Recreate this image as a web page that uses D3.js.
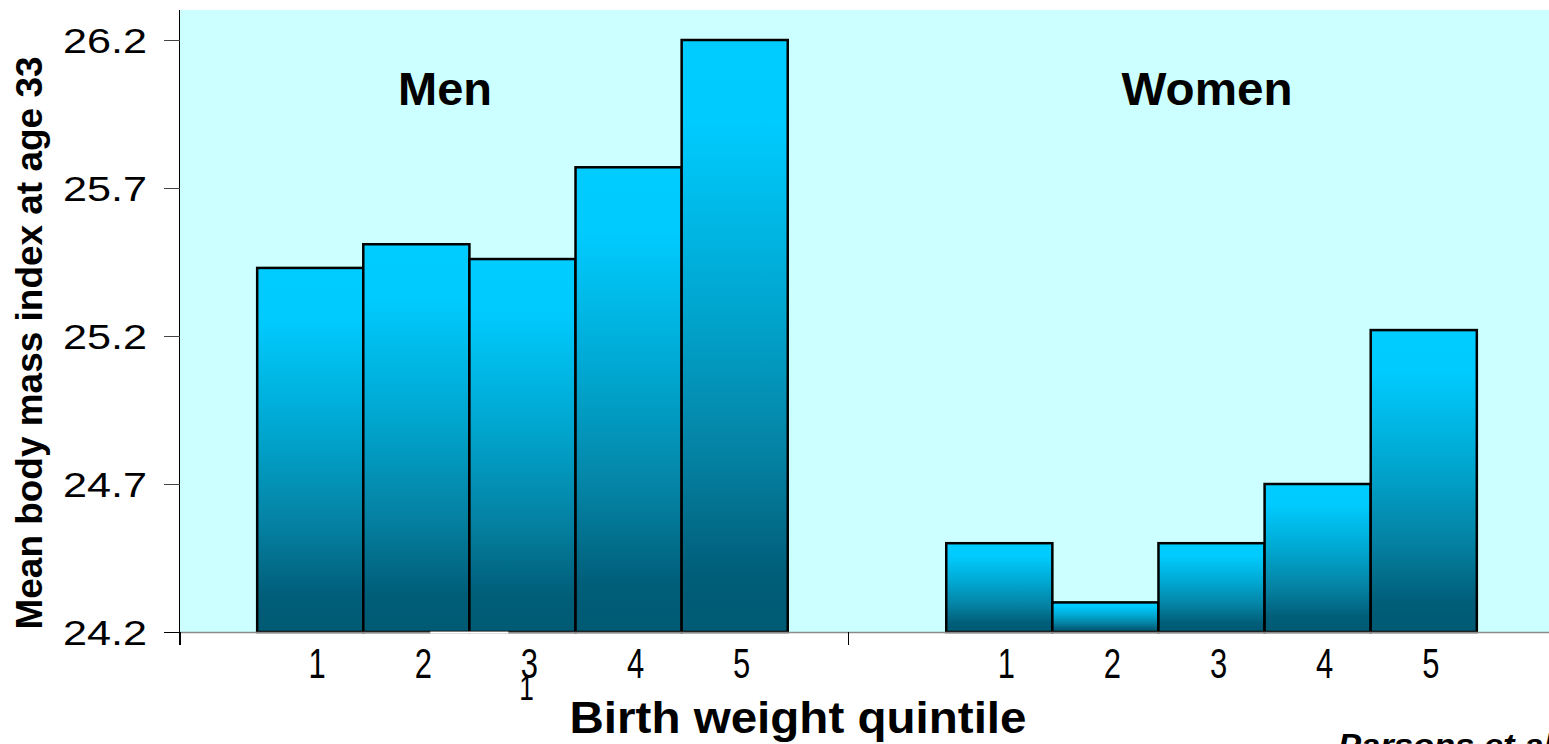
<!DOCTYPE html>
<html>
<head>
<meta charset="utf-8">
<script src="https://cdn.jsdelivr.net/npm/d3@7"></script>
<style>
  html, body { margin: 0; padding: 0; background: #ffffff; }
  svg { display: block; }
  text { font-family: "Liberation Sans", Arial, sans-serif; fill: #000; }
</style>
</head>
<body>
<svg id="chart" width="1549" height="744"></svg>
<script>
// Mean BMI at age 33 by birth weight quintile, men and women
const groups = ["Men", "Women"];
const quintiles = ["1", "2", "3", "4", "5"];
const menValues = [25.43, 25.51, 25.46, 25.77, 26.2];
const womenValues = [24.5, 24.3, 24.5, 24.7, 25.22];
const yTicks = [24.2, 24.7, 25.2, 25.7, 26.2];
const yTitle = "Mean body mass index at age 33";
const xTitle = "Birth weight quintile";
const sourceNote = "Parsons et al";

const seriesByGroup = { Men: menValues, Women: womenValues };

const svg = d3.select("#chart");
const plot = { left: 180, right: 1549, top: 10, bottom: 632 };

const y = d3.scaleLinear().domain([24.2, 26.2]).range([632, 40]);

const xGroup = d3.scaleBand()
  .domain(groups)
  .range([180, 1554])
  .paddingInner(0.23)
  .paddingOuter(0.112);

const xInner = d3.scaleBand()
  .domain(quintiles)
  .range([0, xGroup.bandwidth()])
  .padding(0);

// group separator ticks on the category axis
const xAxisScale = d3.scaleBand().domain(groups).range([180, 1516]);

// gradient used by every bar (relative to each bar's own box)
const defs = svg.append("defs");
const grad = defs.append("linearGradient")
  .attr("id", "barFill")
  .attr("x1", 0).attr("y1", 0).attr("x2", 0).attr("y2", 1);
[[0, "#00ccff"], [0.14, "#00cbfe"], [0.45, "#00a6cf"], [0.7, "#0582a3"], [0.9, "#005e79"], [1, "#005a73"]]
  .forEach(([o, c]) => grad.append("stop").attr("offset", o).attr("stop-color", c));

// plot background
svg.append("rect")
  .attr("x", plot.left).attr("y", plot.top)
  .attr("width", plot.right - plot.left).attr("height", plot.bottom - plot.top)
  .attr("fill", "#ccffff");

// bars
const data = [];
groups.forEach(g => seriesByGroup[g].forEach((v, i) => data.push({ group: g, q: quintiles[i], value: v })));

svg.append("g").selectAll("rect")
  .data(data)
  .join("rect")
  .attr("x", d => xGroup(d.group) + xInner(d.q))
  .attr("y", d => y(d.value))
  .attr("width", xInner.bandwidth())
  .attr("height", d => y.range()[0] - y(d.value))
  .attr("fill", "url(#barFill)")
  .attr("stroke", "#000")
  .attr("stroke-width", 2.5);

// x axis line
svg.append("line")
  .attr("x1", plot.left).attr("x2", plot.right)
  .attr("y1", 632.5).attr("y2", 632.5)
  .attr("stroke", "#8a8a8a").attr("stroke-width", 1.5);

// small gap in the axis line under the men's second/third bars
svg.append("rect")
  .attr("x", xGroup("Men") + xInner("2") + 67).attr("y", 631.6)
  .attr("width", 78).attr("height", 2)
  .attr("fill", "#ffffff");

// group separator ticks
svg.append("g").selectAll("line")
  .data(groups)
  .join("line")
  .attr("x1", d => xAxisScale(d) + 0.5).attr("x2", d => xAxisScale(d) + 0.5)
  .attr("y1", 632).attr("y2", 645)
  .attr("stroke", "#000").attr("stroke-width", 1);

// y axis
svg.append("line")
  .attr("x1", 179.5).attr("x2", 179.5)
  .attr("y1", plot.top).attr("y2", 645)
  .attr("stroke", "#000").attr("stroke-width", 1);

const yAxis = svg.append("g");
yAxis.selectAll("line")
  .data(yTicks)
  .join("line")
  .attr("x1", 164).attr("x2", 180)
  .attr("y1", d => y(d) + 0.5).attr("y2", d => y(d) + 0.5)
  .attr("stroke", d => d === 24.2 ? "#000" : "#444").attr("stroke-width", 1);

yAxis.selectAll("text")
  .data(yTicks)
  .join("text")
  .attr("x", 63)
  .attr("y", d => y(d) + 13)
  .attr("font-size", 35)
  .attr("textLength", 84)
  .attr("lengthAdjust", "spacingAndGlyphs")
  .text(d => d.toFixed(1));

// quintile labels (narrow digits)
const labelX = d => xGroup(d.group) + xInner(d.q) + xInner.bandwidth() / 2 + 7;
svg.append("g").selectAll("text")
  .data(data)
  .join("text")
  .attr("transform", d => `translate(${labelX(d)},678) scale(0.72,1)`)
  .attr("text-anchor", "middle")
  .attr("font-size", 43)
  .text(d => d.q);

// stray label under the men's third bar
svg.append("text")
  .attr("transform", `translate(${xGroup("Men") + xInner("3") + xInner.bandwidth() / 2 + 4},700) scale(0.75,1)`)
  .attr("text-anchor", "middle")
  .attr("font-size", 35)
  .text("1");

// group titles
svg.append("g").selectAll("text")
  .data(groups)
  .join("text")
  .attr("x", (d, i) => i === 0 ? 445 : 1207)
  .attr("y", 105)
  .attr("text-anchor", "middle")
  .attr("font-weight", "bold")
  .attr("font-size", 46)
  .attr("textLength", (d, i) => i === 0 ? 94 : 171)
  .attr("lengthAdjust", "spacingAndGlyphs")
  .text(d => d);

// axis titles
svg.append("text")
  .attr("x", 798).attr("y", 733)
  .attr("text-anchor", "middle")
  .attr("font-weight", "bold")
  .attr("font-size", 45)
  .attr("textLength", 457)
  .attr("lengthAdjust", "spacingAndGlyphs")
  .text(xTitle);

svg.append("text")
  .attr("transform", "translate(42,343) rotate(-90)")
  .attr("text-anchor", "middle")
  .attr("font-weight", "bold")
  .attr("font-size", 36)
  .attr("textLength", 573)
  .attr("lengthAdjust", "spacingAndGlyphs")
  .text(yTitle);

// source note
svg.append("text")
  .attr("x", 1338).attr("y", 756)
  .attr("font-weight", "bold")
  .attr("font-style", "italic")
  .attr("font-size", 31)
  .attr("textLength", 215)
  .attr("lengthAdjust", "spacingAndGlyphs")
  .text(sourceNote);
</script>
</body>
</html>
